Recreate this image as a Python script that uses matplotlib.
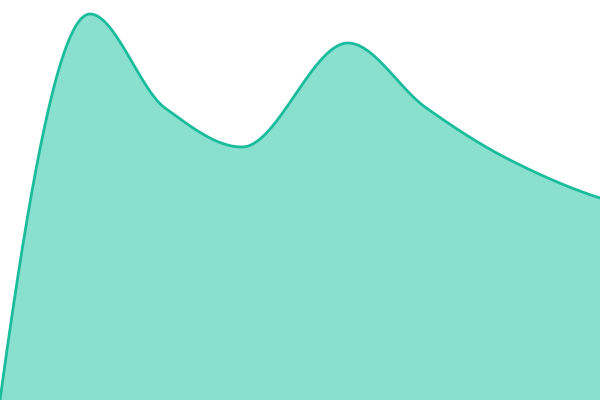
import numpy as np
import matplotlib
matplotlib.use("Agg")
import matplotlib.pyplot as plt

x_pts = [0, 90, 165, 242, 348, 425, 510, 600]
values = [0, 386, 292, 253, 357, 293, 240, 202]


def pchip(x, y, xs):
    x = np.asarray(x, float)
    y = np.asarray(y, float)
    h = np.diff(x)
    d = np.diff(y) / h
    n = len(x)
    m = np.zeros(n)
    for k in range(1, n - 1):
        if d[k - 1] * d[k] <= 0:
            m[k] = 0
        else:
            w1 = 2 * h[k] + h[k - 1]
            w2 = h[k] + 2 * h[k - 1]
            m[k] = (w1 + w2) / (w1 / d[k - 1] + w2 / d[k])

    def end(h0, h1, d0, d1):
        mm = ((2 * h0 + h1) * d0 - h0 * d1) / (h0 + h1)
        if np.sign(mm) != np.sign(d0):
            mm = 0
        elif np.sign(d0) != np.sign(d1) and abs(mm) > abs(3 * d0):
            mm = 3 * d0
        return mm

    m[0] = end(h[0], h[1], d[0], d[1])
    m[-1] = end(h[-1], h[-2], d[-1], d[-2])
    idx = np.clip(np.searchsorted(x, xs) - 1, 0, n - 2)
    t = (xs - x[idx]) / h[idx]
    h00 = 2 * t**3 - 3 * t**2 + 1
    h10 = t**3 - 2 * t**2 + t
    h01 = -2 * t**3 + 3 * t**2
    h11 = t**3 - t**2
    return h00 * y[idx] + h10 * h[idx] * m[idx] + h01 * y[idx + 1] + h11 * h[idx] * m[idx + 1]


xs = np.linspace(x_pts[0], x_pts[-1], 1200)
ys = pchip(x_pts, values, xs)

fig = plt.figure(figsize=(6, 4), dpi=100)
ax = fig.add_axes([0, 0, 1, 1])
ax.fill_between(xs, 0, ys, color="#89e0cf", linewidth=0)
ax.plot(xs, ys, color="#1abc9c", linewidth=2.0, solid_capstyle="round")
ax.set_xlim(0, 600)
ax.set_ylim(0, 400)
ax.axis("off")
fig.savefig("out.png", dpi=100)
